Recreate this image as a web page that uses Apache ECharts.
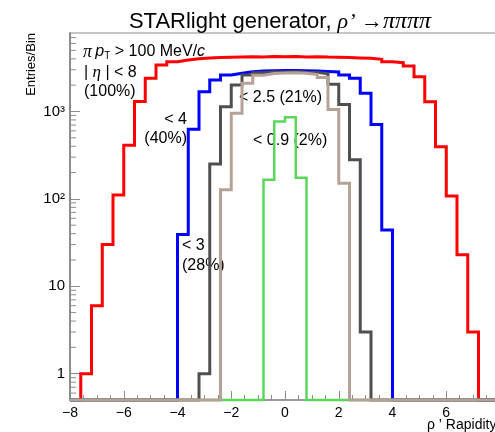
<!DOCTYPE html>
<html><head><meta charset="utf-8">
<script src="https://cdn.jsdelivr.net/npm/echarts@6/dist/echarts.min.js"></script>
<style>html,body{margin:0;padding:0;background:#fff}#c{width:495px;height:432px}</style>
</head><body><div id="c"></div>
<script>
// Histogram binning: 40 bins from -8 to 8
const binStart = -8, binWidth = 0.4;
// bin contents (Entries/Bin)
const red   = [0,1,6,30,111,410,1300,2400,3400,3700,3880,4000,4080,4150,4180,4200,4230,4210,4250,4220,4240,4200,4230,4190,4180,4150,4100,4070,3950,3710,3610,3310,2500,1294,396,108,23,3,0,0];
const blue  = [0,0,0,0,0,0,0,0,0,0,39,626,1684,2290,2614,2734,2850,2900,2920,2950,2940,2920,2900,2860,2830,2614,2400,1614,710,44,0,0,0,0,0,0,0,0,0,0];
const gray  = [0,0,0,0,0,0,0,0,0,0,0,0,1,250,1135,2010,2614,2780,2820,2830,2840,2810,2800,2700,2050,1200,280,3,0,0,0,0,0,0,0,0,0,0,0,0];
const green = [0,0,0,0,0,0,0,0,0,0,0,0,0,0,0,0,0,0,165,770,860,175,0,0,0,0,0,0,0,0,0,0,0,0,0,0,0,0,0,0];
const brown = [0,0,0,0,0,0,0,0,0,0,0,0,0,0,127,954,2100,2600,2720,2760,2770,2740,2650,2450,1050,151,0,0,0,0,0,0,0,0,0,0,0,0,0,0];
// axis
const xTicks = [-8,-6,-4,-2,0,2,4,6,8];
const yLabels = {1:'1', 10:'10', 100:'10\u00b2', 1000:'10\u00b3'};
const yMin = 0.5, yMax = 7900;

function steps(arr){
  const pts = arr.map((v,i)=>[binStart + i*binWidth, v > 0 ? v : yMin]);
  const last = arr[arr.length-1];
  pts.push([binStart + arr.length*binWidth, last > 0 ? last : yMin]);
  return pts;
}
const yMinor = [];
for (let d = -1; d <= 3; d++) for (let k = 2; k <= 9; k++) {
  const v = k * Math.pow(10, d);
  if (v > yMin && v < yMax && v !== 1) yMinor.push([-8, v]);
}

function hist(name, arr, color, w){
  return {name, type:'line', step:'end', data: steps(arr), showSymbol:false, symbol:'none',
    clip:false, lineStyle:{color, width:w, join:'miter'}, silent:true, animation:false};
}
const F = '"Liberation Sans", Arial, Helvetica, sans-serif';
const SERIF = '"Liberation Serif", "Times New Roman", serif';

const chart = echarts.init(document.getElementById('c'), null, {renderer:'canvas'});
chart.setOption({
  animation:false,
  backgroundColor:'#fff',
  grid:{left:70, right:-5, top:33, bottom:32, show:true, borderColor:'#8c8c8c', borderWidth:1, backgroundColor:'transparent',
    containLabel:false, outerBoundsMode:'none'},
  xAxis:{type:'value', min:-8, max:8, interval:2,
    axisLine:{show:true, onZero:false, lineStyle:{color:'#8c8c8c', width:1.5}},
    axisTick:{show:true, inside:true, length:9, lineStyle:{color:'#8c8c8c'}},
    minorTick:{show:true, splitNumber:4, length:5, lineStyle:{color:'#8c8c8c'}},
    splitLine:{show:false},
    axisLabel:{color:'#000', fontSize:14, fontFamily:F, margin:6, hideOverlap:false,
      formatter:v => (v < 0 ? '\u2212' : '') + Math.abs(v)}},
  yAxis:{type:'log', logBase:10, min:yMin, max:yMax,
    axisLine:{show:true, onZero:false, lineStyle:{color:'#8c8c8c', width:2}},
    axisTick:{show:true, inside:true, length:10, lineStyle:{color:'#8c8c8c'}},
    splitLine:{show:false},
    axisLabel:{color:'#000', fontSize:15, fontFamily:F, margin:5, showMinLabel:false, showMaxLabel:false,
      formatter:v => { const r = Math.round(v); return Math.abs(v - r) < 1e-6 && yLabels[r] ? yLabels[r] : ''; }}},
  series:[
    hist('|η|<8', red, '#ff0000', 3),
    hist('<4', blue, '#0000ff', 3),
    hist('<3', gray, '#4f4f4f', 3),
    hist('<0.9', green, '#5bd65b', 2.5),
    hist('<2.5', brown, '#b5a297', 3),
    {type:'custom', silent:true, clip:false, data:yMinor, z:5,
      renderItem:(params, api) => { const p = api.coord([api.value(0), api.value(1)]);
        return {type:'line', shape:{x1:p[0], y1:p[1], x2:p[0]+6, y2:p[1]}, style:{stroke:'#8c8c8c', lineWidth:1}}; }}
  ],
  graphic:[
    {type:'text', x:280, y:22, style:{text:'{n|STARlight generator, }{i|\u03c1\u2019 }{n|\u2192}{p|\u03c0\u03c0\u03c0\u03c0}',
      align:'center', verticalAlign:'middle',
      rich:{n:{fontFamily:F, fontSize:22, fill:'#000'}, i:{fontFamily:SERIF, fontStyle:'italic', fontSize:22, fill:'#000'},
            p:{fontFamily:SERIF, fontStyle:'italic', fontSize:24, fill:'#000'}}}},
    {type:'text', x:31, y:33, rotation:Math.PI/2, style:{text:'Entries/Bin', font:'13px '+F, fill:'#000', align:'right', verticalAlign:'middle'}},
    {type:'text', x:427, y:425, style:{text:'\u03c1 \u2019 Rapidity', font:'14px '+F, fill:'#000', align:'left', verticalAlign:'middle'}},
    {type:'text', x:83, y:52, style:{text:'{g|\u03c0} {i|p}{s|T}{n| > 100 MeV/}{i|c}', verticalAlign:'middle',
      rich:{g:{fontFamily:SERIF, fontStyle:'italic', fontSize:18, fill:'#000'}, i:{fontFamily:F, fontStyle:'italic', fontSize:16, fill:'#000'},
            n:{fontFamily:F, fontSize:16, fill:'#000'}, s:{fontFamily:F, fontSize:10, fill:'#000', verticalAlign:'bottom', padding:[8,0,0,0]}}}},
    {type:'text', x:84, y:73, style:{text:'{n|| }{g|\u03b7}{n| | < 8}', verticalAlign:'middle',
      rich:{g:{fontFamily:SERIF, fontStyle:'italic', fontSize:17, fill:'#000'}, n:{fontFamily:F, fontSize:16, fill:'#000'}}}},
    {type:'text', x:84, y:92, style:{text:'(100%)', font:'16px '+F, fill:'#000', verticalAlign:'middle'}},
    {type:'text', x:187, y:120, style:{text:'< 4', font:'16px '+F, fill:'#000', align:'right', verticalAlign:'middle'}},
    {type:'text', x:187, y:139, style:{text:'(40%)', font:'16px '+F, fill:'#000', align:'right', verticalAlign:'middle'}},
    {type:'text', x:239, y:98, style:{text:'< 2.5 (21%)', font:'16px '+F, fill:'#000', verticalAlign:'middle'}},
    {type:'text', x:253, y:141, style:{text:'< 0.9 (2%)', font:'16px '+F, fill:'#000', verticalAlign:'middle'}},
    {type:'text', x:182, y:246, style:{text:'< 3', font:'16px '+F, fill:'#000', verticalAlign:'middle'}},
    {type:'text', x:182, y:266, style:{text:'(28%)', font:'16px '+F, fill:'#000', verticalAlign:'middle'}}
  ]
});
</script></body></html>
